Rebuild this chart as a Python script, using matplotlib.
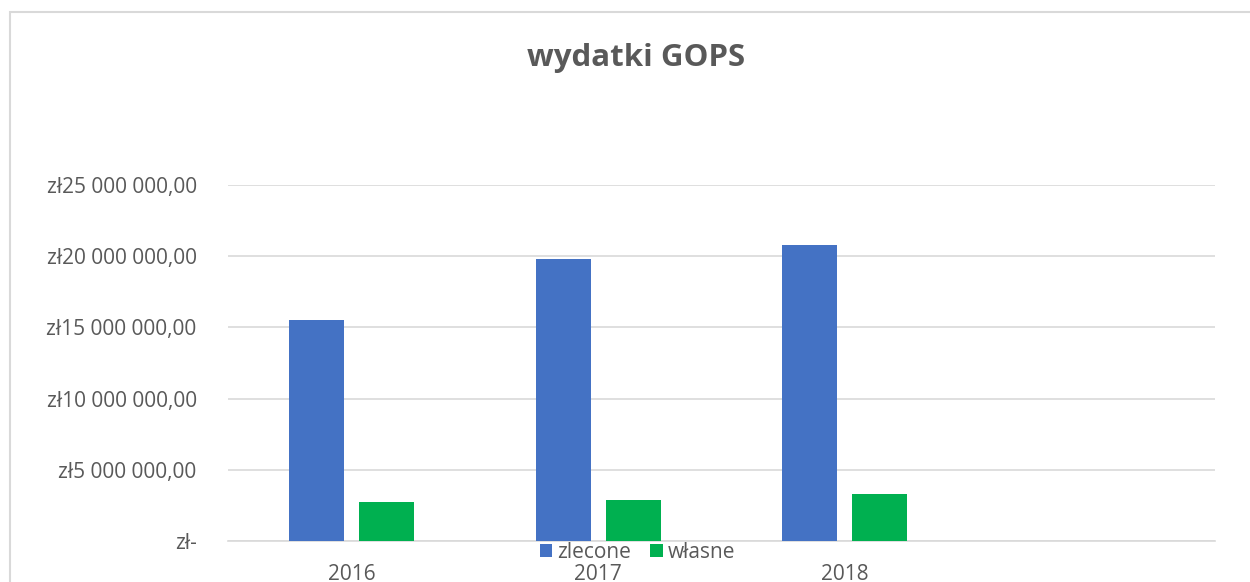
import matplotlib
matplotlib.use("Agg")
import matplotlib.pyplot as plt
from matplotlib.patches import Rectangle
import numpy as np

plt.rcParams['font.family'] = ['Open Sans', 'DejaVu Sans']

categories = ['2016', '2017', '2018', '']
zlecone = [15.5e6, 19.8e6, 20.8e6, np.nan]
wlasne = [2.75e6, 2.88e6, 3.3e6, np.nan]
series_names = ['zlecone', 'własne']
yticks = [0, 5e6, 10e6, 15e6, 20e6, 25e6]
ytick_labels = ['zł-', 'zł5 000 000,00', 'zł10 000 000,00', 'zł15 000 000,00',
                'zł20 000 000,00', 'zł25 000 000,00']
title = 'wydatki GOPS'

blue = '#4472C4'
green = '#00B050'
grid_c = '#D9D9D9'
text_c = '#595959'

fig = plt.figure(figsize=(12.5, 5.82), dpi=100)
fig.patches.append(Rectangle((0.008, -0.1), 1.1, 0.1 + 0.9794, transform=fig.transFigure,
                             fill=False, edgecolor=grid_c, linewidth=1.5))
ax = fig.add_axes([0.1824, 0.0704, 0.972 - 0.1824, 0.682 - 0.0704])

x = np.arange(len(categories))
w = 0.223
off = 0.1418
ax.bar(x - off, zlecone, w, color=blue, label=series_names[0], zorder=3)
ax.bar(x + off, wlasne, w, color=green, label=series_names[1], zorder=3)

ax.set_xlim(-0.5, len(categories) - 0.5)
ax.set_ylim(0, 25e6)
ax.set_yticks(yticks)
ax.set_yticklabels(ytick_labels)
ax.set_xticks(x)
ax.set_xticklabels(categories)
ax.grid(axis='y', color=grid_c, linewidth=1.2, zorder=0)
for s in ['top', 'right', 'left']:
    ax.spines[s].set_visible(False)
ax.spines['bottom'].set_color(grid_c)
ax.spines['bottom'].set_linewidth(1.2)
ax.tick_params(axis='y', length=0, pad=22.5, labelsize=15, labelcolor=text_c)
ax.tick_params(axis='x', length=0, pad=16.5, labelsize=15, labelcolor=text_c)

fig.text(0.509, 1 - 58 / 582, title, ha='center', va='center', fontsize=22.5,
         fontweight='bold', color=text_c)

fig.legend(loc='center', bbox_to_anchor=(0.510, 1 - 552 / 582), ncol=2, frameon=False,
           fontsize=15, labelcolor=text_c, handlelength=0.6, handleheight=0.6,
           handletextpad=0.25, columnspacing=0.9, borderpad=0)

fig.savefig('out.png', dpi=100, facecolor='white')
